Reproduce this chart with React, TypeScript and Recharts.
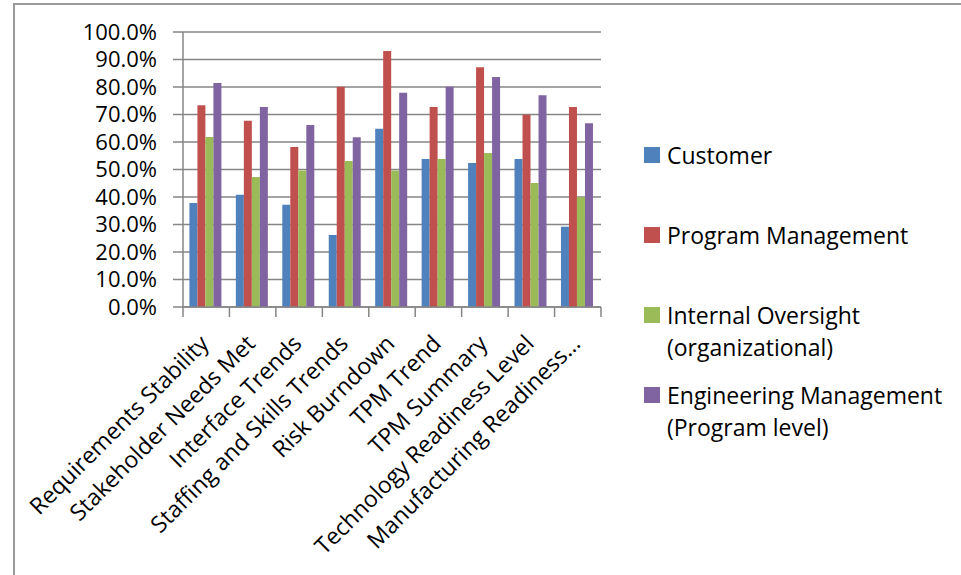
import React from 'react';
import { BarChart, Bar, XAxis, YAxis, CartesianGrid } from 'recharts';

const categories = [
  'Requirements Stability',
  'Stakeholder Needs Met',
  'Interface Trends',
  'Staffing and  Skills Trends',
  'Risk Burndown',
  'TPM Trend',
  'TPM Summary',
  'Technology Readiness Level',
  'Manufacturing Readiness…',
];
const customer = [0.378, 0.408, 0.372, 0.262, 0.648, 0.538, 0.524, 0.538, 0.292];
const programManagement = [0.734, 0.677, 0.582, 0.801, 0.931, 0.727, 0.872, 0.699, 0.727];
const internalOversight = [0.618, 0.473, 0.496, 0.531, 0.496, 0.538, 0.56, 0.451, 0.399];
const engineeringManagement = [0.815, 0.727, 0.662, 0.617, 0.779, 0.801, 0.836, 0.77, 0.668];
const yTicks = [0, 0.1, 0.2, 0.3, 0.4, 0.5, 0.6, 0.7, 0.8, 0.9, 1.0];

const seriesKeys = ['customer', 'programManagement', 'internalOversight', 'engineeringManagement'];
const seriesNames = [
  'Customer',
  'Program Management',
  'Internal Oversight (organizational)',
  'Engineering Management (Program level)',
];
const seriesColors = ['#4F81BD', '#C0504D', '#9BBB59', '#8064A2'];
const seriesValues = [customer, programManagement, internalOversight, engineeringManagement];

const data = categories.map((c, i) => {
  const row: Record<string, string | number> = { category: c };
  seriesKeys.forEach((k, s) => {
    row[k] = seriesValues[s][i];
  });
  return row;
});

const W = 961;
const H = 575;
const Y_AXIS_W = 183;
const MARGIN = { top: 32, right: 360, bottom: 0, left: 0 };
const X_AXIS_H = 268;
const PLOT_W = W - Y_AXIS_W - MARGIN.left - MARGIN.right;
const BAND = PLOT_W / categories.length;
const FONT = '"Open Sans", sans-serif';
const AXIS_COLOR = '#868686';

function XTick(props: any) {
  const { x, y, payload, index } = props;
  const left = x - BAND / 2;
  const right = x + BAND / 2;
  const tx = x + 4;
  const ty = y + 38;
  return (
    <g>
      <line x1={left} y1={y} x2={left} y2={y + 10} stroke={AXIS_COLOR} strokeWidth={1.5} />
      {index === categories.length - 1 && (
        <line x1={right} y1={y} x2={right} y2={y + 10} stroke={AXIS_COLOR} strokeWidth={1.5} />
      )}
      <text
        x={tx}
        y={ty}
        textAnchor="end"
        transform={`rotate(-45, ${tx}, ${ty})`}
        fontFamily={FONT}
        fontSize={23}
        fill="#000"
      >
        {payload.value}
      </text>
    </g>
  );
}

function Legend() {
  return (
    <div style={{ position: 'absolute', left: 644, top: 139, fontFamily: FONT, fontSize: 23, color: '#000' }}>
      {seriesNames.map((name, i) => {
        const idx = name.indexOf(' (');
        const lines = idx >= 0 ? [name.slice(0, idx), name.slice(idx + 1)] : [name];
        return (
          <div key={name} style={{ height: 80, display: 'flex', alignItems: 'flex-start' }}>
            <div style={{ width: 16, height: 16, marginTop: 8, background: seriesColors[i], flex: 'none' }} />
            <div style={{ marginLeft: 7, lineHeight: '32px', whiteSpace: 'nowrap' }}>
              {lines.map((l) => (
                <div key={l}>{l}</div>
              ))}
            </div>
          </div>
        );
      })}
    </div>
  );
}

export default function App() {
  return (
    <div style={{ position: 'absolute', left: 0, top: 0, width: W, height: H, background: '#fff', overflow: 'hidden' }}>
      <div
        style={{
          position: 'absolute',
          left: 13,
          top: 3,
          width: W,
          height: H,
          borderLeft: '2px solid #9a9a9a',
          borderTop: '2px solid #9a9a9a',
        }}
      />
      <div style={{ position: 'absolute', left: 0, top: 0 }}>
        <BarChart width={W} height={H} data={data} margin={MARGIN} barGap={0} barCategoryGap="13.8%">
          <CartesianGrid vertical={false} stroke={AXIS_COLOR} strokeWidth={1.5} />
          <XAxis
            dataKey="category"
            height={X_AXIS_H}
            interval={0}
            tickSize={0}
            tickMargin={0}
            tickLine={false}
            axisLine={{ stroke: AXIS_COLOR, strokeWidth: 1.5 }}
            tick={<XTick />}
          />
          <YAxis
            width={Y_AXIS_W}
            domain={[0, 1]}
            ticks={yTicks}
            interval={0}
            tickFormatter={(v: number) => `${(v * 100).toFixed(1)}%`}
            tickSize={10}
            tickMargin={16}
            axisLine={{ stroke: AXIS_COLOR, strokeWidth: 1.5 }}
            tickLine={{ stroke: AXIS_COLOR, strokeWidth: 1.5 }}
            tick={{ fontFamily: FONT, fontSize: 22, fill: '#000' }}
          />
          {seriesKeys.map((k, i) => (
            <Bar key={k} dataKey={k} name={seriesNames[i]} fill={seriesColors[i]} isAnimationActive={false} />
          ))}
        </BarChart>
      </div>
      <Legend />
    </div>
  );
}
